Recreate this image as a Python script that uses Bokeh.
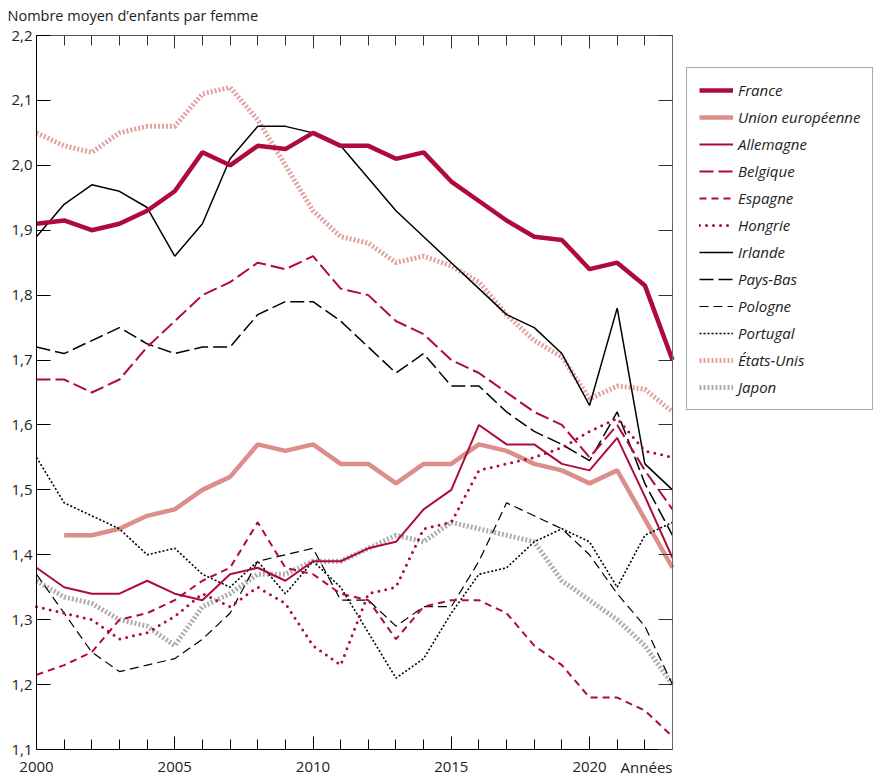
from bokeh.plotting import figure
from bokeh.models import Range1d, FixedTicker, LinearAxis, Legend, LegendItem, Label, CustomJSTickFormatter
from bokeh.embed import file_html
from bokeh.resources import INLINE

years = list(range(2000, 2024))
eu_years = list(range(2001, 2024))

france = [1.91, 1.915, 1.90, 1.91, 1.93, 1.96, 2.02, 2.00, 2.03, 2.025, 2.05, 2.03,
          2.03, 2.01, 2.02, 1.975, 1.945, 1.915, 1.89, 1.885, 1.84, 1.85, 1.815, 1.70]
union_europeenne = [1.43, 1.43, 1.44, 1.46, 1.47, 1.50, 1.52, 1.57, 1.56, 1.57, 1.54,
                    1.54, 1.51, 1.54, 1.54, 1.57, 1.56, 1.54, 1.53, 1.51, 1.53, 1.455, 1.38]
allemagne = [1.38, 1.35, 1.34, 1.34, 1.36, 1.34, 1.33, 1.37, 1.38, 1.36, 1.39, 1.39,
             1.41, 1.42, 1.47, 1.50, 1.60, 1.57, 1.57, 1.54, 1.53, 1.58, 1.49, 1.395]
belgique = [1.67, 1.67, 1.65, 1.67, 1.72, 1.76, 1.80, 1.82, 1.85, 1.84, 1.86, 1.81,
            1.80, 1.76, 1.74, 1.70, 1.68, 1.65, 1.62, 1.60, 1.55, 1.60, 1.53, 1.47]
espagne = [1.215, 1.23, 1.25, 1.30, 1.31, 1.33, 1.36, 1.38, 1.45, 1.38, 1.37, 1.34,
           1.33, 1.27, 1.32, 1.33, 1.33, 1.31, 1.26, 1.23, 1.18, 1.18, 1.16, 1.12]
hongrie = [1.32, 1.31, 1.30, 1.27, 1.28, 1.305, 1.34, 1.32, 1.35, 1.325, 1.26, 1.23,
           1.34, 1.35, 1.44, 1.45, 1.53, 1.54, 1.55, 1.565, 1.59, 1.61, 1.56, 1.55]
irlande = [1.89, 1.94, 1.97, 1.96, 1.935, 1.86, 1.91, 2.01, 2.06, 2.06, 2.05, 2.03,
           1.98, 1.93, 1.89, 1.85, 1.81, 1.77, 1.75, 1.71, 1.63, 1.78, 1.54, 1.50]
pays_bas = [1.72, 1.71, 1.73, 1.75, 1.725, 1.71, 1.72, 1.72, 1.77, 1.79, 1.79, 1.76,
            1.72, 1.68, 1.71, 1.66, 1.66, 1.62, 1.59, 1.57, 1.545, 1.62, 1.51, 1.43]
pologne = [1.37, 1.31, 1.25, 1.22, 1.23, 1.24, 1.27, 1.31, 1.39, 1.40, 1.41, 1.33,
           1.33, 1.29, 1.32, 1.32, 1.39, 1.48, 1.46, 1.44, 1.40, 1.34, 1.29, 1.20]
portugal = [1.55, 1.48, 1.46, 1.44, 1.40, 1.41, 1.37, 1.35, 1.39, 1.34, 1.39, 1.35,
            1.28, 1.21, 1.24, 1.31, 1.37, 1.38, 1.42, 1.44, 1.42, 1.35, 1.43, 1.45]
etats_unis = [2.05, 2.03, 2.02, 2.05, 2.06, 2.06, 2.11, 2.12, 2.07, 2.00, 1.93, 1.89,
              1.88, 1.85, 1.86, 1.845, 1.82, 1.77, 1.73, 1.705, 1.64, 1.66, 1.655, 1.62]
japon = [1.36, 1.335, 1.325, 1.30, 1.29, 1.26, 1.32, 1.34, 1.37, 1.37, 1.39, 1.39,
         1.41, 1.43, 1.42, 1.45, 1.44, 1.43, 1.42, 1.36, 1.33, 1.30, 1.26, 1.20]

x_major_ticks = [2000, 2005, 2010, 2015, 2020]
x_minor_ticks = list(range(2001, 2023))
y_ticks = [1.1, 1.2, 1.3, 1.4, 1.5, 1.6, 1.7, 1.8, 1.9, 2.0, 2.1, 2.2]
y_tick_labels = ["1,1", "1,2", "1,3", "1,4", "1,5", "1,6", "1,7", "1,8", "1,9", "2,0", "2,1", "2,2"]
title_text = "Nombre moyen d\u2019enfants par femme"
x_end_label = "Ann\u00e9es"

X0, X1 = 2000, 2023
Y0, Y1 = 1.1, 2.2

FONT = "Open Sans"
CRIMSON = "#AE0B3B"
PINK = "#DC8E8A"
PINK_DOT = "#E3A1A0"
GRAY = "#ADADAD"
BLACK = "#000000"
TXT = "#222222"

# layout in pixels (the frame fills the canvas below the title;
# the axes are drawn at fixed data positions inside it)
W, H = 876, 776
FRAME_T = 25
AX_L, AX_R, AX_T, AX_B = 36, 672, 35, 749
px_per_year = (AX_R - AX_L) / (X1 - X0)
px_per_unit = (AX_B - AX_T) / (Y1 - Y0)
x_start = X0 - AX_L / px_per_year
x_end = X1 + (W - AX_R) / px_per_year
y_start = Y0 - (H - AX_B) / px_per_unit
y_end = Y1 + (AX_T - FRAME_T) / px_per_unit

p = figure(width=W, height=H, x_range=Range1d(x_start, x_end), y_range=Range1d(y_start, y_end),
           output_backend="svg", toolbar_location=None,
           min_border_left=0, min_border_right=0, min_border_top=FRAME_T, min_border_bottom=0,
           title=title_text)
p.title.text_font = FONT
p.title.text_font_size = "14.5px"
p.title.text_font_style = "normal"
p.title.text_color = TXT
p.title.align = "left"
p.title.offset = 7
p.title.standoff = 2
p.outline_line_color = None
p.xgrid.visible = False
p.ygrid.visible = False

xt = FixedTicker(ticks=x_major_ticks, minor_ticks=x_minor_ticks)
yt = FixedTicker(ticks=y_ticks)
blank = CustomJSTickFormatter(code="return ''")

xa = p.xaxis[0]
xa.ticker = xt
xa.fixed_location = Y0
xa.bounds = (X0, X1)
xa.major_tick_in = 13
xa.major_tick_out = 0
xa.minor_tick_in = 10
xa.minor_tick_out = 0
xa.major_label_standoff = 12
xa.major_label_text_font = FONT
xa.major_label_text_font_size = "15px"
xa.major_label_text_color = TXT
xa.axis_line_color = BLACK
xa.major_tick_line_color = BLACK
xa.minor_tick_line_color = BLACK

ya = p.yaxis[0]
ya.ticker = yt
ya.fixed_location = X0
ya.bounds = (Y0, Y1)
ya.major_label_overrides = {t: l for t, l in zip(y_ticks, y_tick_labels)}
ya.major_tick_in = 14
ya.major_tick_out = 0
ya.minor_tick_line_color = None
ya.major_label_standoff = 4
ya.major_label_text_font = FONT
ya.major_label_text_font_size = "15px"
ya.major_label_text_color = TXT
ya.axis_line_color = BLACK

top = LinearAxis(ticker=xt, formatter=blank, fixed_location=Y1, bounds=(X0, X1),
                 major_tick_in=13, major_tick_out=0, minor_tick_in=10, minor_tick_out=0,
                 major_label_standoff=0, major_label_text_font_size="1px",
                 axis_line_color="#555555", major_tick_line_color="#333333", minor_tick_line_color="#333333")
p.add_layout(top, "above")
right = LinearAxis(ticker=yt, formatter=blank, fixed_location=X1, bounds=(Y0, Y1),
                   major_tick_in=14, major_tick_out=0, minor_tick_line_color=None,
                   major_label_standoff=0, major_label_text_font_size="1px",
                   axis_line_color="#666666", major_tick_line_color="#333333")
p.add_layout(right, "right")

series = [
    ("France", years, france, CRIMSON, 4.5, "solid", "butt"),
    ("Union europ\u00e9enne", eu_years, union_europeenne, PINK, 4.5, "solid", "butt"),
    ("Allemagne", years, allemagne, CRIMSON, 2, "solid", "butt"),
    ("Belgique", years, belgique, CRIMSON, 2, "14 5", "butt"),
    ("Espagne", years, espagne, CRIMSON, 2, "7 5", "butt"),
    ("Hongrie", years, hongrie, CRIMSON, 3, "0 7", "round"),
    ("Irlande", years, irlande, BLACK, 1.5, "solid", "butt"),
    ("Pays-Bas", years, pays_bas, BLACK, 1.5, "14 5", "butt"),
    ("Pologne", years, pologne, BLACK, 1.2, "9 5", "butt"),
    ("Portugal", years, portugal, BLACK, 1.6, "2 2", "butt"),
    ("\u00c9tats-Unis", years, etats_unis, PINK_DOT, 5, "2 2", "butt"),
    ("Japon", years, japon, GRAY, 5, "2 2", "butt"),
]

renderers = {}
order = ["\u00c9tats-Unis", "Japon", "Union europ\u00e9enne", "Pologne", "Portugal", "Pays-Bas", "Irlande",
         "Espagne", "Hongrie", "Belgique", "Allemagne", "France"]
spec = {s[0]: s for s in series}
for name in order:
    _, xs, ys, col, w, dash, cap = spec[name]
    renderers[name] = p.line(xs, ys, line_color=col, line_width=w, line_dash=dash, line_cap=cap)

items = [LegendItem(label=s[0], renderers=[renderers[s[0]]]) for s in series]
legend = Legend(items=items, location=(686, H - 410), orientation="vertical",
                glyph_width=34, glyph_height=20, label_height=20, spacing=7, padding=12,
                label_standoff=5, label_text_font=FONT, label_text_font_size="15px",
                label_text_font_style="italic", label_text_color=TXT,
                border_line_color="#555555", border_line_width=1, background_fill_alpha=1,
                margin=0)
p.add_layout(legend, "center")

p.add_layout(Label(x=X1, y=Y0, text=x_end_label, text_align="right", text_baseline="top",
                   y_offset=-7, text_font=FONT, text_font_size="15px", text_color=TXT))

open("out.html", "w").write(file_html(p, INLINE))
